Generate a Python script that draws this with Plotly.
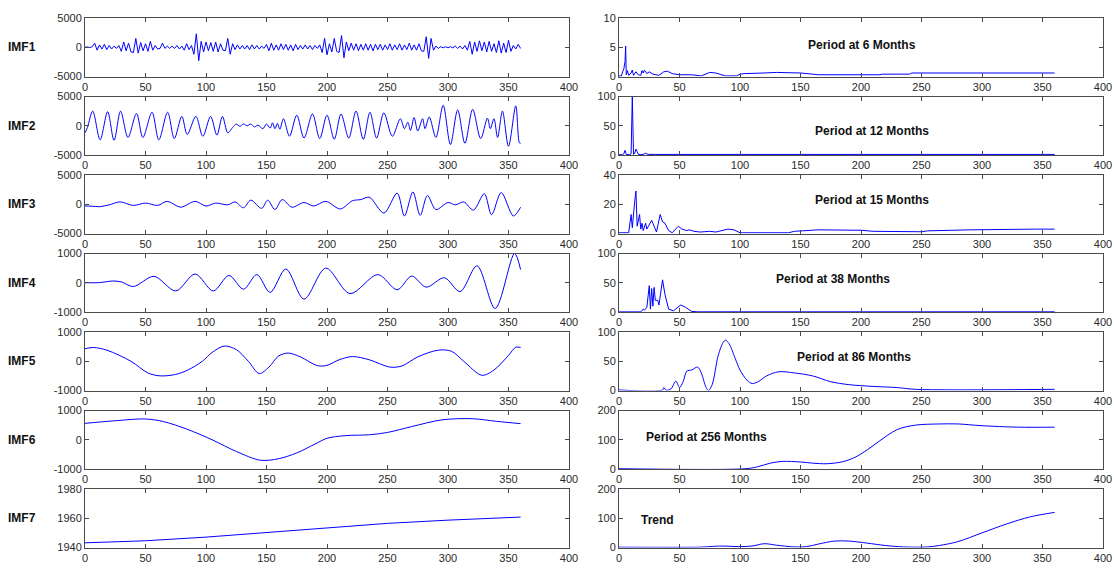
import plotly.graph_objects as go

# ---------------- IMF components (left column) ----------------
imf1_t = list(range(0, 361, 2))
imf1_v = [0, 50, -50, 100, 700, -500, 400, -300, 500, -400,
          300, -300, 200, -200, 300, -700, 900, -600, 700, -800,
          -900, 1500, -1000, 800, -600, 600, -700, 1000, -500, 300,
          -300, -200, 700, -200, 200, -200, 200, -200, 300, -300,
          200, -500, 600, -400, 300, -1200, 2300, -2300, 1000, -800,
          900, -600, 800, -700, 900, -800, 600, -500, -600, 1500,
          -1200, 600, -400, 400, -300, 300, -300, 300, -400, 400,
          -300, 300, -300, 200, -200, 500, -600, 700, -500, 400,
          -500, 600, -400, 500, -500, 400, -600, 500, -400, 300,
          -300, 400, -300, 300, -400, 300, -200, 400, -900, 1500,
          -1300, 600, -800, 1500, -700, -900, 2000, -1800, 900, -600,
          700, -500, 600, -600, 500, -500, 600, -500, 500, -600,
          500, -400, 500, -500, 400, -400, 600, -500, 400, -400,
          600, -500, 400, -400, 700, -500, 400, -500, 600, -600,
          -700, 1800, -1900, 1500, -500, 200, -200, 100, -100, 100,
          -100, 100, -100, 200, -200, 200, -300, 300, -500, 1000,
          -1200, 900, -700, 1100, -600, 900, -800, 1000, -700, 600,
          -900, 1100, -1000, 700, -900, 1200, -700, 300, -300, 500,
          -200]

imf2_t = [0, 2, 6.4, 12.5, 18.7, 24, 29.4, 35.5, 42.6, 47.8, 55.4, 61, 68.3, 73.8,
          80, 84.5, 91.6, 97.4, 103.8, 109, 113.6, 118, 122, 125, 128, 131, 134,
          137, 140, 143, 147, 150, 153, 155, 157, 159, 161, 164, 169, 175, 181,
          188, 194, 200, 206, 211.6, 218, 224, 230, 235.5, 241, 247, 254, 260.6,
          264, 266.8, 269, 272, 275, 279, 281, 284.5, 290, 296, 302, 308, 314,
          320.4, 327, 332.6, 335, 338, 341, 345, 350, 356, 359, 360]
imf2_v = [-1200, -300, 2500, -2400, 2400, -2500, 2500, -2000, 2100, -2000, 2300, -2400,
          2300, -2200, 1600, -1500, 1600, -1800, 1600, -1600, 1600, -1200, -300, 300,
          -100, 300, 0, 300, -200, 100, -500, 300, -400, 500, -500, 400, -600, 1200,
          -1800, 1800, -2100, 2000, -2200, 1800, -2300, 2000, -2100, 2500, -2300,
          2300, -2100, 2200, -1800, 1200, -500, 600, -800, 1400, -900, 1200, -500,
          1500, -2000, 3500, -3200, 2700, -3000, 2800, -2200, 1300, -500, 1200,
          -2000, 2500, -3500, 3400, -2900, -3000]

imf3_t = [0, 5, 12, 20, 29, 40, 50, 60, 68, 79, 91, 100, 108, 118, 124, 131, 137, 146,
          151, 157, 163, 171, 181, 189, 199, 211, 221, 228, 235, 247, 258, 264, 271,
          277, 283, 290, 300, 306, 313, 321, 330, 336, 344, 354, 360]
imf3_v = [-300, -320, -420, -100, 400, -200, 200, -200, 500, -500, 500, -300, 200,
          -100, 400, -600, 700, -700, 700, -900, 800, -500, 300, -300, 500, -800,
          600, 800, 1200, -1500, 1900, -2000, 2100, -1900, 1500, -900, 300, -100,
          400, -1000, 1800, -1800, 2000, -2000, -500]

imf4_t = [0, 12, 23, 30, 40, 57, 75, 91, 106, 119, 131, 142, 153, 166, 181, 199, 219,
          242, 258, 270, 282, 297, 310, 324, 339, 355, 360]
imf4_v = [0, 5, 60, 30, -130, 220, -280, 300, -280, 250, -220, 280, -330, 470, -560,
          500, -370, 280, -240, 230, -150, 170, -300, 580, -880, 1000, 450]

imf5_t = [0, 7, 18, 38, 52, 62, 75, 85, 97, 105, 115, 125, 135, 144, 152, 160, 168,
          178, 192, 200, 210, 221, 235, 252, 262, 275, 292, 303, 313, 328, 338, 350,
          356, 360]
imf5_v = [430, 470, 380, 0, -400, -500, -450, -300, 0, 300, 520, 400, 0, -420, -200,
          180, 280, 150, -150, -140, 50, 160, 50, -200, -160, 150, 380, 340, 0, -480,
          -300, 200, 480, 470]

imf6_t = [0, 25, 50, 65, 85, 105, 125, 145, 160, 175, 190, 200, 215, 235, 250, 270,
          295, 320, 340, 360]
imf6_v = [560, 650, 710, 620, 350, 0, -400, -700, -650, -450, -150, 50, 140, 170, 250,
          450, 680, 720, 630, 550]

imf7_t = [0, 50, 100, 150, 200, 250, 300, 350, 360]
imf7_v = [1943.2, 1944.6, 1947.1, 1950.3, 1953.7, 1956.5, 1958.7, 1960.6, 1960.8]

# ---------------- Spectra (right column) ----------------
sp1_t = [0, 2, 3, 4, 5, 5.5, 6, 7, 8, 10, 11, 12, 14, 16, 18, 19, 20, 21, 23, 25, 28,
         33, 37, 40, 44, 50, 60, 68, 75, 80, 88, 97, 100, 104, 120, 130, 150, 165,
         215, 218, 240, 242, 360]
sp1_v = [0.1, 0.1, 0.8, 1.3, 2.6, 5.2, 0.3, 1.0, 0.2, 0.6, 1.1, 0.2, 0.8, 0.3, 0.2,
         1.0, 0.6, 1.1, 0.5, 0.8, 0.4, 0.2, 0.8, 0.9, 0.5, 0.3, 0.3, 0.1, 0.7, 0.6,
         0.1, 0.1, 0.4, 0.5, 0.6, 0.7, 0.6, 0.3, 0.3, 0.4, 0.4, 0.6, 0.6]

sp2_t = [0, 3, 4, 5, 6, 9, 10, 11, 11.5, 12, 13, 14, 15, 16, 18, 20, 22, 24, 30, 360]
sp2_v = [0.5, 0.5, 2, 8, 1, 0.5, 2, 100, 50, 1, 3, 10, 6, 1, 1, 1, 3, 1, 1, 1]

sp3_t = [0, 8, 10, 11, 13, 14, 15, 17, 18, 19, 20, 22, 23, 25, 27, 28, 31, 34, 36, 38,
         41, 44, 49, 52, 56, 58, 62, 67, 75, 80, 90, 95, 100, 140, 145, 165, 200, 210,
         250, 255, 290, 345, 360]
sp3_v = [0.5, 0.5, 13, 4, 22, 29, 5, 13, 3, 7, 2, 7, 3, 6, 9, 7, 1, 13, 8, 7, 2, 0.5,
         5, 3, 2, 2.5, 1.5, 1, 1.5, 1, 3, 2.5, 0.5, 0.5, 1.5, 2.5, 2.2, 1.5, 1.2, 1.8,
         2.5, 3, 3]

sp4_t = [0, 18, 20, 21, 23, 25, 26, 27, 28, 29, 30, 32, 33, 36, 38, 41, 45, 51, 55, 60,
         65, 360]
sp4_v = [0.2, 0.2, 5, 3, 8, 45, 5, 40, 10, 42, 20, 20, 12, 55, 30, 5, 2, 12, 8, 1, 0.3,
         0.3]

sp5_t = [0, 36, 37, 39, 43, 47, 50, 53, 56, 60, 65, 68, 72, 74, 77, 82, 86, 88, 91, 96,
         100, 106, 110, 115, 122, 132, 145, 160, 175, 190, 210, 230, 245, 360]
sp5_v = [1, 1, 5, 0.5, 3, 16, 5, 15, 33, 35, 40, 30, 5, 0, 10, 60, 82, 86, 80, 55, 35,
         17, 12, 15, 25, 32, 30, 25, 15, 10, 7, 5, 2, 2]

sp6_t = [0, 105, 115, 125, 135, 150, 160, 172, 185, 195, 205, 215, 230, 245, 265, 280,
         300, 330, 360]
sp6_v = [1, 1, 8, 20, 26, 24, 20, 18, 25, 40, 65, 95, 135, 150, 154, 154, 148, 143, 143]

sp7_t = [0, 65, 70, 85, 100, 110, 120, 130, 145, 155, 165, 178, 190, 205, 220, 235, 255,
         265, 280, 300, 320, 340, 360]
sp7_v = [1, 1, 2, 5, 3, 5, 13, 8, 2, 3, 12, 22, 22, 15, 7, 2, 2, 7, 20, 50, 80, 105, 120]

imf_names = ["IMF1", "IMF2", "IMF3", "IMF4", "IMF5", "IMF6", "IMF7"]
spec_labels = ["Period at 6 Months", "Period at 12 Months", "Period at 15 Months",
               "Period at 38 Months", "Period at 86 Months", "Period at 256 Months",
               "Trend"]
spec_label_x = [201, 209, 209, 177, 194, 72, 32]
spec_label_y = [5.3, 41, 23, 57, 58, 110, 95]

left_ranges = [[-5000, 5000], [-5000, 5000], [-5000, 5000], [-1000, 1000],
               [-1000, 1000], [-1000, 1000], [1940, 1980]]
left_ticks = [[-5000, 0, 5000], [-5000, 0, 5000], [-5000, 0, 5000],
              [-1000, 0, 1000], [-1000, 0, 1000], [-1000, 0, 1000],
              [1940, 1960, 1980]]
right_ranges = [[0, 10], [0, 100], [0, 40], [0, 100], [0, 100], [0, 200], [0, 200]]
right_ticks = [[0, 5, 10], [0, 50, 100], [0, 20, 40], [0, 50, 100], [0, 50, 100],
               [0, 100, 200], [0, 100, 200]]
x_ticks = [0, 50, 100, 150, 200, 250, 300, 350, 400]

left_series = [(imf1_t, imf1_v), (imf2_t, imf2_v), (imf3_t, imf3_v), (imf4_t, imf4_v),
               (imf5_t, imf5_v), (imf6_t, imf6_v), (imf7_t, imf7_v)]
right_series = [(sp1_t, sp1_v), (sp2_t, sp2_v), (sp3_t, sp3_v), (sp4_t, sp4_v),
                (sp5_t, sp5_v), (sp6_t, sp6_v), (sp7_t, sp7_v)]
left_smooth = [False, True, True, True, True, True, False]
right_smooth = [False, False, False, False, True, True, True]

# ---------------- Layout geometry (pixels of a 1114x572 canvas) ----------------
W, H = 1114, 572
LEFT_X = [85 / W, 569 / W]
RIGHT_X = [619 / W, 1103 / W]
ROW_TOP = [18, 96.5, 175, 253.5, 332, 410.5, 489]
ROW_H = 58.5

BLUE = "#0000ff"
FRAME = "#4a4a4a"
tick_font = dict(family="Arial, Liberation Sans, sans-serif", size=11, color="#2a2a2a")
bold_font = dict(family="Arial, Liberation Sans, sans-serif", size=12, color="#111111")

fig = go.Figure()
layout = dict(
    template="none",
    width=W, height=H, margin=dict(l=0, r=0, t=0, b=0, pad=0, autoexpand=False),
    paper_bgcolor="white", plot_bgcolor="white", showlegend=False,
)
annotations = []

axis_common = dict(showline=True, linecolor=FRAME, linewidth=1, mirror="ticks",
                   ticks="inside", ticklen=4, tickcolor=FRAME, tickwidth=1,
                   showgrid=False, zeroline=False, tickfont=tick_font,
                   fixedrange=True, automargin=False)

for r in range(7):
    top = ROW_TOP[r]
    ydom = [1 - (top + ROW_H) / H, 1 - top / H]
    for c in range(2):
        n = r * 2 + c + 1
        xa = "x" if n == 1 else f"x{n}"
        ya = "y" if n == 1 else f"y{n}"
        if c == 0:
            t, v = left_series[r]
            smooth = left_smooth[r]
            yr, yt = left_ranges[r], left_ticks[r]
        else:
            t, v = right_series[r]
            smooth = right_smooth[r]
            yr, yt = right_ranges[r], right_ticks[r]
        line = dict(color=BLUE, width=1)
        if smooth:
            line.update(shape="spline", smoothing=0.9)
        fig.add_trace(go.Scatter(x=t, y=v, mode="lines", line=line,
                                 xaxis=xa, yaxis=ya, hoverinfo="skip"))
        layout["xaxis" if n == 1 else f"xaxis{n}"] = dict(
            axis_common, domain=LEFT_X if c == 0 else RIGHT_X, anchor=ya,
            range=[0, 400], tickmode="array", tickvals=x_ticks,
            ticktext=[str(k) for k in x_ticks])
        layout["yaxis" if n == 1 else f"yaxis{n}"] = dict(
            axis_common, domain=ydom, anchor=xa, range=yr, tickmode="array",
            tickvals=yt, ticktext=[str(k) for k in yt])
        if c == 0:
            annotations.append(dict(
                text=f"<b>{imf_names[r]}</b>", xref="paper", yref=f"{ya} domain",
                x=22 / W, y=0.5, xanchor="center", yanchor="middle",
                showarrow=False, font=bold_font))
        else:
            annotations.append(dict(
                text=f"<b>{spec_labels[r]}</b>", xref=xa, yref=ya,
                x=spec_label_x[r], y=spec_label_y[r], xanchor="center",
                yanchor="middle", showarrow=False, font=bold_font))

layout["annotations"] = annotations
fig.update_layout(**layout)
fig.write_html("out.html")
